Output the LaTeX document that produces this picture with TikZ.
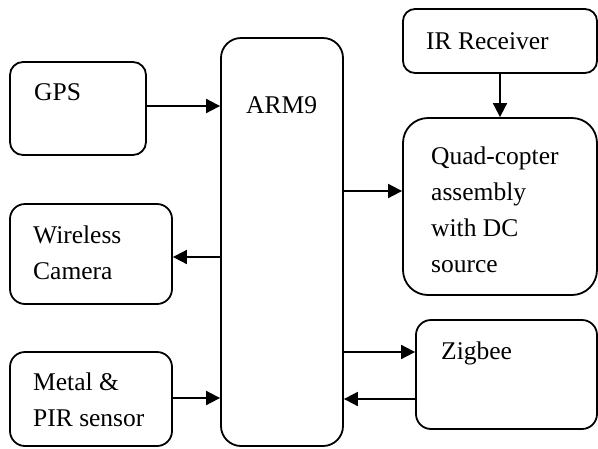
\documentclass[tikz,border=0pt]{standalone}
\usepackage{fontspec}
\setmainfont{Liberation Serif}
\usetikzlibrary{arrows.meta,positioning,calc}

\begin{document}
\begin{tikzpicture}[x=1pt,y=-1pt,font=\fontsize{25.5}{36}\selectfont,
 blk/.style={draw,line width=1.8pt,rounded corners=#1,inner sep=0pt},
 blk/.default=13pt,
 txt/.style={anchor=north west,inner sep=0pt,align=left},
 arr/.style={-{Triangle[length=14pt,width=14pt]},line width=1.8pt}]
\useasboundingbox (0,0) rectangle (598,448);
\node[blk,minimum width=136pt,minimum height=93pt] (gps) at (78,108.5) {};
\node[blk=20pt,minimum width=122pt,minimum height=408pt] (arm) at (282,242) {};
\node[blk=12pt,minimum width=194pt,minimum height=64pt] (ir) at (500,41) {};
\node[blk=25pt,minimum width=194pt,minimum height=177pt] (quad) at (500,206.5) {};
\node[blk=15pt,minimum width=162pt,minimum height=100pt] (cam) at (91,254) {};
\node[blk=15pt,minimum width=162pt,minimum height=94pt] (pir) at (91,399) {};
\node[blk=15pt,minimum width=181pt,minimum height=109pt] (zig) at (506.5,374.5) {};
\node[txt] (gpst) at (34,83) {GPS};
\node[txt] (armt) at (246,96) {ARM9};
\node[txt] (irt) at (426,32) {IR Receiver};
\node[txt] (quadt) at (431,147) {Quad-copter\\assembly\\with DC\\source};
\node[txt] (camt) at (33,226) {Wireless\\Camera};
\node[txt] (pirt) at (33,373) {Metal \&\\PIR sensor};
\node[txt] (zigt) at (441,342) {Zigbee};
\draw[arr] ([yshift=2.5pt]gps.east)--([yshift=2.5pt]gps.east -| arm.west);
\draw[arr] (ir.south)--(quad.north);
\draw[arr] ([yshift=15.5pt]quad.west -| arm.east)--([yshift=15.5pt]quad.west);
\draw[arr] ([yshift=-3pt]cam.east -| arm.west)--([yshift=-3pt]cam.east);
\draw[arr] ([yshift=1pt]pir.east)--([yshift=1pt]pir.east -| arm.west);
\draw[arr] ([yshift=22.5pt]zig.west -| arm.east)--([yshift=22.5pt]zig.west);
\draw[arr] ([yshift=-24.5pt]zig.west)--([yshift=-24.5pt]zig.west -| arm.east);
\end{tikzpicture}
\end{document}
